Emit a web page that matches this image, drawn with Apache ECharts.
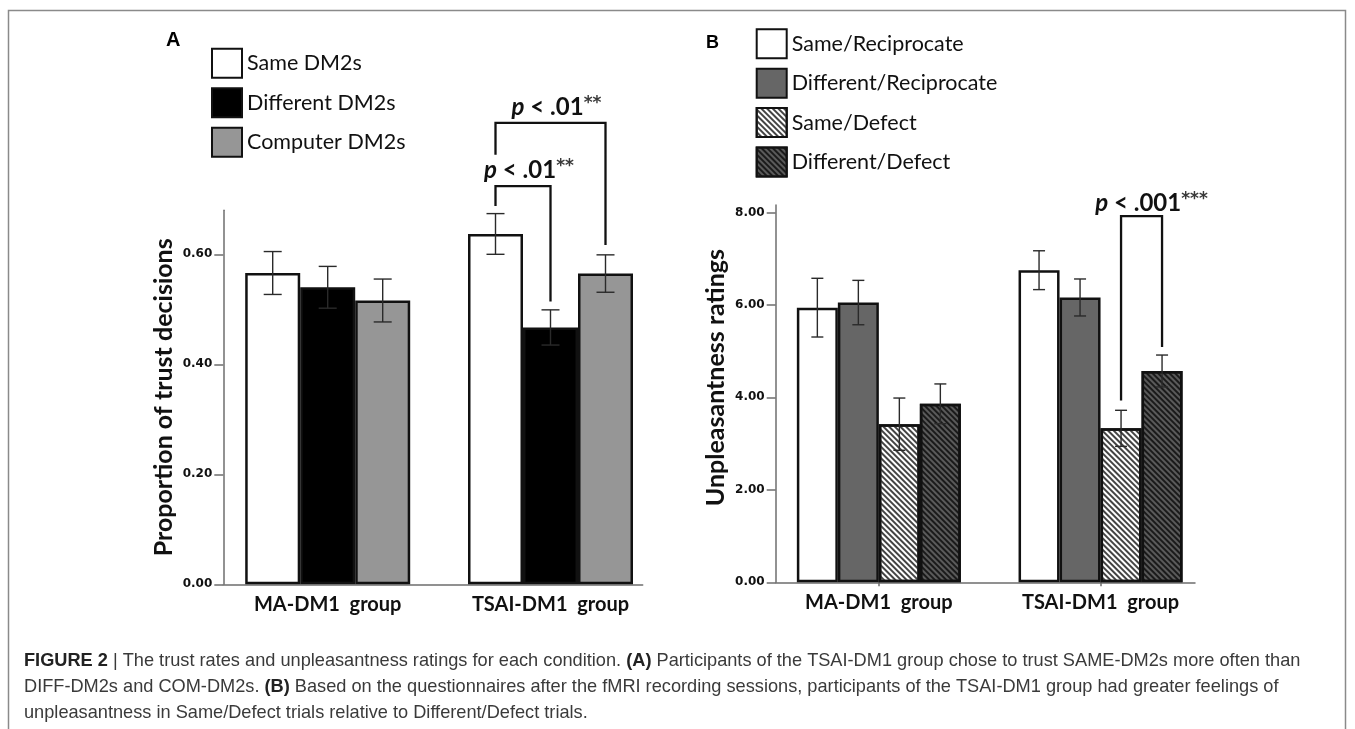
<!DOCTYPE html>
<html><head><meta charset="utf-8">
<script src="https://cdn.jsdelivr.net/npm/echarts@6/dist/echarts.min.js"></script>
<style>html,body{margin:0;padding:0;background:#fff}#c{width:1355px;height:729px}</style>
</head><body><div id="c"></div>
<script>
// ---------- data ----------
const groups = ['MA-DM1  group', 'TSAI-DM1  group'];

// Panel A: proportion of trust decisions
const namesA = ['Same DM2s', 'Different DM2s', 'Computer DM2s'];
const sameDM2 = [0.566, 0.637];
const diffDM2 = [0.540, 0.467];
const compDM2 = [0.516, 0.565];
const sameDM2Err = [0.039, 0.037];
const diffDM2Err = [0.038, 0.032];
const compDM2Err = [0.039, 0.034];
const ticksA = [0, 0.2, 0.4, 0.6];

// Panel B: unpleasantness ratings
const namesB = ['Same/Reciprocate', 'Different/Reciprocate', 'Same/Defect', 'Different/Defect'];
const sameRecip = [5.94, 6.75];
const diffRecip = [6.05, 6.16];
const sameDefect = [3.42, 3.33];
const diffDefect = [3.86, 4.57];
const sameRecipErr = [0.635, 0.42];
const diffRecipErr = [0.48, 0.40];
const sameDefectErr = [0.565, 0.39];
const diffDefectErr = [0.43, 0.345];
const ticksB = [0, 2, 4, 6, 8];

// significance brackets: [group, fromBar, toBar, topValue, leftEndValue, rightEndValue]
const bracketA1 = [1, 0, 2, 0.839, 0.781, 0.617];
const bracketA2 = [1, 0, 1, 0.724, 0.688, 0.514];
const bracketB1 = [1, 2, 3, 7.92, 3.93, 5.09];
const bracketLabelsA = [['.01', '**'], ['.01', '**']];
const bracketLabelsB = [['.001', '***']];

// ---------- styling ----------
const BAR_A = 55, BAR_B = 41;
const AX = '#6e6e6e';
const FONT = 'Lato';

function errSeries(name, means, errs, idx, n, barW, cap, xi, yi) {
  return {
    type: 'custom', name: name, xAxisIndex: xi, yAxisIndex: yi, z: 10,
    data: means.map((m, i) => [i, m - errs[i], m + errs[i]]),
    encode: { x: 0, y: [1, 2] },
    renderItem: function (params, api) {
      const lo = api.coord([api.value(0), api.value(1)]);
      const hi = api.coord([api.value(0), api.value(2)]);
      const cx = lo[0] + (idx - (n - 1) / 2) * barW;
      const st = { stroke: '#2a2a2a', lineWidth: 1.4 };
      return { type: 'group', children: [
        { type: 'line', shape: { x1: cx, y1: hi[1], x2: cx, y2: lo[1] }, style: st },
        { type: 'line', shape: { x1: cx - cap / 2, y1: hi[1], x2: cx + cap / 2, y2: hi[1] }, style: st },
        { type: 'line', shape: { x1: cx - cap / 2, y1: lo[1], x2: cx + cap / 2, y2: lo[1] }, style: st }
      ] };
    }
  };
}

function bracketSeries(rows, labels, n, barW, xi, yi, fs, gap, dx) {
  return {
    type: 'custom', xAxisIndex: xi, yAxisIndex: yi, z: 12, clip: false,
    data: rows,
    encode: { x: 0, y: 3 },
    renderItem: function (params, api) {
      const g = api.value(0);
      const top = api.coord([g, api.value(3)]);
      const le = api.coord([g, api.value(4)]);
      const re = api.coord([g, api.value(5)]);
      const xl = top[0] + (api.value(1) - (n - 1) / 2) * barW;
      const xr = top[0] + (api.value(2) - (n - 1) / 2) * barW;
      const lab = labels[params.dataIndex];
      return { type: 'group', children: [
        { type: 'polyline', shape: { points: [[xl, le[1]], [xl, top[1]], [xr, top[1]], [xr, re[1]]] },
          style: { stroke: '#111', lineWidth: 2.3, fill: null } },
        { type: 'text', x: (xl + xr) / 2 + dx, y: top[1] - gap,
          style: {
            text: '{p|p}{t| < ' + lab[0] + '}{s|' + lab[1] + '}',
            align: 'center', verticalAlign: 'middle', textAlign: 'center', textVerticalAlign: 'middle',
            rich: {
              p: { fontFamily: FONT, fontStyle: 'italic', fontWeight: 'bold', fontSize: fs, fill: '#111', color: '#111' },
              t: { fontFamily: FONT, fontWeight: 'bold', fontSize: fs, fill: '#111', color: '#111' },
              s: { fontFamily: 'DejaVu Sans', fontWeight: 'bold', fontSize: fs - 7, fill: '#3a3a3a', color: '#3a3a3a', padding: [0, 0, 7, 0] }
            }
          } }
      ] };
    }
  };
}

const hatchLight = { symbol: 'rect', symbolSize: 1, dashArrayX: [1, 0], dashArrayY: [1.2, 2.0], rotation: Math.PI / 4, color: '#444' };
const hatchDark = { symbol: 'rect', symbolSize: 1, dashArrayX: [1, 0], dashArrayY: [1.2, 2.0], rotation: Math.PI / 4, color: '#1a1a1a' };

function barS(name, data, color, barW, xi, yi, decal) {
  const it = { color: color, borderColor: '#111', borderWidth: 2.5 };
  if (decal) it.decal = decal;
  return { type: 'bar', name: name, data: data, xAxisIndex: xi, yAxisIndex: yi, barWidth: barW, barGap: '0%', itemStyle: it, z: 2 };
}

const yLabel = { fontFamily: 'DejaVu Sans', fontWeight: 'bold', fontSize: 12, color: '#111', margin: 11 };
const xLabel = { fontFamily: FONT, fontWeight: 'bold', fontSize: 20, color: '#111', margin: 10 };
const legText = { fontFamily: FONT, fontSize: 21.5, color: '#111', lineHeight: 29 };

const chart = echarts.init(document.getElementById('c'), null, { renderer: 'canvas' });
chart.setOption({
  animation: false,
  backgroundColor: '#fff',
  grid: [
    { left: 223.3, top: 210.3, width: 419.4, height: 374 },
    { left: 216.3, top: 210.3, width: 445.6, height: 374 },
    { left: 775.7, top: 205, width: 419.3, height: 377.3 },
    { left: 768, top: 205, width: 443.4, height: 377.3 }
  ],
  xAxis: [
    { gridIndex: 0, type: 'value', min: 0, max: 1, axisLine: { show: true, lineStyle: { color: AX, width: 1.5 } }, axisTick: { show: false }, axisLabel: { show: false }, splitLine: { show: false } },
    { gridIndex: 1, type: 'category', data: groups, axisLine: { show: false }, axisTick: { show: false }, axisLabel: xLabel },
    { gridIndex: 2, type: 'value', min: 0, max: 1, axisLine: { show: true, lineStyle: { color: AX, width: 1.5 } }, axisTick: { show: false }, axisLabel: { show: false }, splitLine: { show: false } },
    { gridIndex: 3, type: 'category', data: groups, axisLine: { show: false }, axisTick: { show: true, alignWithLabel: true, length: 4, lineStyle: { color: AX, width: 1.5 } }, axisLabel: xLabel }
  ],
  yAxis: [
    { gridIndex: 0, type: 'value', min: 0, max: 0.68, interval: 0.2,
      name: 'Proportion of trust decisions', nameLocation: 'middle', nameRotate: 90, nameGap: 47,
      nameTextStyle: { fontFamily: FONT, fontWeight: 'bold', fontSize: 25, color: '#111' },
      axisLine: { show: true, lineStyle: { color: AX, width: 1.5 } },
      axisTick: { show: true, length: 9, customValues: ticksA, lineStyle: { color: AX, width: 1.5 } },
      axisLabel: Object.assign({ customValues: ticksA, formatter: v => v.toFixed(2) }, yLabel),
      splitLine: { show: false } },
    { gridIndex: 1, type: 'value', min: 0, max: 0.68, show: false, splitLine: { show: false } },
    { gridIndex: 2, type: 'value', min: 0, max: 8.16, interval: 2,
      name: 'Unpleasantness ratings', nameLocation: 'middle', nameRotate: 90, nameGap: 47,
      nameTextStyle: { fontFamily: FONT, fontWeight: 'bold', fontSize: 25, color: '#111', padding: [0, 0, 0, 32] },
      axisLine: { show: true, lineStyle: { color: AX, width: 1.5 } },
      axisTick: { show: true, length: 9, customValues: ticksB, lineStyle: { color: AX, width: 1.5 } },
      axisLabel: Object.assign({ customValues: ticksB, formatter: v => v.toFixed(2) }, yLabel),
      splitLine: { show: false } },
    { gridIndex: 3, type: 'value', min: 0, max: 8.16, show: false, splitLine: { show: false } }
  ],
  legend: [
    { data: namesA, orient: 'vertical', left: 211, top: 47.7, padding: 0, itemWidth: 30, itemHeight: 29, itemGap: 8.5, icon: 'rect', selectedMode: false,
      textStyle: legText },
    { data: namesB, orient: 'vertical', left: 755.7, top: 28.3, padding: 0, itemWidth: 30, itemHeight: 29, itemGap: 8.4, icon: 'rect', selectedMode: false,
      textStyle: legText }
  ],
  series: [
    barS(namesA[0], sameDM2, '#ffffff', BAR_A, 1, 1),
    barS(namesA[1], diffDM2, '#000000', BAR_A, 1, 1),
    barS(namesA[2], compDM2, '#969696', BAR_A, 1, 1),
    errSeries('eA0', sameDM2, sameDM2Err, 0, 3, BAR_A, 18, 1, 1),
    errSeries('eA1', diffDM2, diffDM2Err, 1, 3, BAR_A, 18, 1, 1),
    errSeries('eA2', compDM2, compDM2Err, 2, 3, BAR_A, 18, 1, 1),
    bracketSeries([bracketA1, bracketA2], bracketLabelsA, 3, BAR_A, 1, 1, 24, 16, 6),
    barS(namesB[0], sameRecip, '#ffffff', BAR_B, 3, 3),
    barS(namesB[1], diffRecip, '#666666', BAR_B, 3, 3),
    barS(namesB[2], sameDefect, '#ffffff', BAR_B, 3, 3, hatchLight),
    barS(namesB[3], diffDefect, '#5a5a5a', BAR_B, 3, 3, hatchDark),
    errSeries('eB0', sameRecip, sameRecipErr, 0, 4, BAR_B, 12, 3, 3),
    errSeries('eB1', diffRecip, diffRecipErr, 1, 4, BAR_B, 12, 3, 3),
    errSeries('eB2', sameDefect, sameDefectErr, 2, 4, BAR_B, 12, 3, 3),
    errSeries('eB3', diffDefect, diffDefectErr, 3, 4, BAR_B, 12, 3, 3),
    bracketSeries([bracketB1], bracketLabelsB, 4, BAR_B, 3, 3, 24, 13, 10)
  ],
  graphic: [
    { type: 'rect', shape: { x: 8.5, y: 10.5, width: 1337, height: 900 }, style: { fill: null, stroke: '#8a8a8a', lineWidth: 1.5 }, silent: true, z: -1 },
    { type: 'text', left: 166, top: 30, style: { text: 'A', font: 'bold 20px "Liberation Sans"', fill: '#000' } },
    { type: 'text', left: 706, top: 34, style: { text: 'B', font: 'bold 18px "Liberation Sans"', fill: '#000' } },
    { type: 'text', left: 24, top: 652, style: {
        text: '{b|FIGURE 2} | The trust rates and unpleasantness ratings for each condition. {b|(A)} Participants of the TSAI-DM1 group chose to trust SAME-DM2s more often than',
        font: '18.2px "Liberation Sans"', fill: '#3a3a3a',
        rich: { b: { fontWeight: 'bold', fontFamily: 'Liberation Sans', fontSize: 18.2, fill: '#222' } } } },
    { type: 'text', left: 24, top: 678, style: {
        text: 'DIFF-DM2s and COM-DM2s. {b|(B)} Based on the questionnaires after the fMRI recording sessions, participants of the TSAI-DM1 group had greater feelings of',
        font: '18.2px "Liberation Sans"', fill: '#3a3a3a',
        rich: { b: { fontWeight: 'bold', fontFamily: 'Liberation Sans', fontSize: 18.2, fill: '#222' } } } },
    { type: 'text', left: 24, top: 704, style: {
        text: 'unpleasantness in Same/Defect trials relative to Different/Defect trials.',
        font: '18.2px "Liberation Sans"', fill: '#3a3a3a' } }
  ]
});
</script>
</body></html>
